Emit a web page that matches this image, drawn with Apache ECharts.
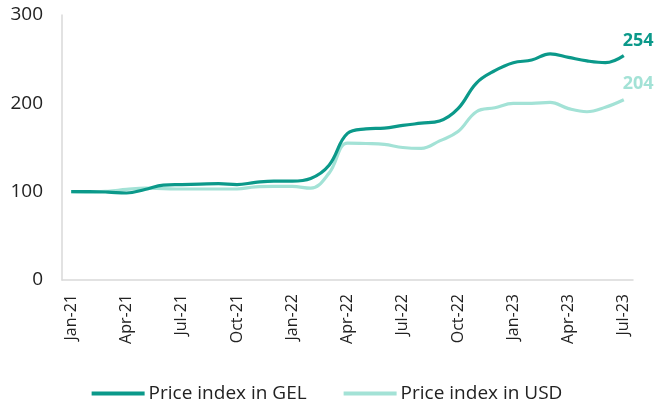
<!DOCTYPE html>
<html lang="en">
<head>
<meta charset="UTF-8">
<title>Price index</title>
<script src="https://cdn.jsdelivr.net/npm/echarts@6/dist/echarts.min.js"></script>
</head>
<body style="margin:0">
<div id="main" style="width:654px;height:406px;"></div>
<script>
// monthly data, Jan-21 .. Jul-23
const months = ['Jan-21','Feb-21','Mar-21','Apr-21','May-21','Jun-21','Jul-21','Aug-21','Sep-21','Oct-21','Nov-21','Dec-21',
  'Jan-22','Feb-22','Mar-22','Apr-22','May-22','Jun-22','Jul-22','Aug-22','Sep-22','Oct-22','Nov-22','Dec-22',
  'Jan-23','Feb-23','Mar-23','Apr-23','May-23','Jun-23','Jul-23'];
const gel = [100, 100, 99.5, 98.5, 102.5, 107.5, 108, 108.5, 109, 108, 110.5, 112,
  112, 115, 130, 166, 171, 172, 175, 177.5, 180, 194, 223, 237,
  246, 249, 256, 252, 248, 246, 254];
const usd = [100, 99.5, 100.5, 102.5, 104, 103.5, 103, 103, 103, 103, 105.5, 106,
  106, 104, 121, 155, 154.5, 153.5, 150, 149, 157.5, 168, 190.5, 195,
  200, 200, 201, 194, 190.5, 195.5, 204];
const names = ['Price index in GEL', 'Price index in USD'];
const colors = ['#0b998a', '#a3e2d6'];

const font = '"Open Sans", sans-serif';

let chart = echarts.init(document.getElementById('main'));
chart.setOption({
  animation: false,
  color: colors,
  grid: { left: 62, right: 21, top: 15, bottom: 126 },
  xAxis: {
    type: 'category',
    data: months,
    boundaryGap: true,
    axisLine: { lineStyle: { color: '#d9d9d9', width: 1.5 } },
    axisTick: { show: false },
    axisLabel: { interval: 2, rotate: 90, color: '#222', fontSize: 16, fontFamily: font, margin: 14 }
  },
  yAxis: {
    type: 'value',
    min: 0, max: 300, interval: 100,
    axisLine: { show: true, lineStyle: { color: '#d9d9d9', width: 1.5 } },
    splitLine: { show: false },
    axisLabel: { color: '#222', fontSize: 19, fontFamily: font, margin: 19 }
  },
  legend: {
    top: 379, left: 'center',
    itemWidth: 53, itemHeight: 4, itemGap: 37,
    icon: 'rect',
    textStyle: { color: '#222', fontSize: 19, fontFamily: font, padding: [0, 0, 0, -1] },
    data: names
  },
  series: [
    { name: names[0], type: 'line', smooth: 0.4, symbol: 'none', data: gel,
      lineStyle: { width: 3.2, color: colors[0] }, z: 3,
      endLabel: { show: true, offset: [-9, -15], color: colors[0], fontWeight: 'bold',
        fontSize: 18, fontFamily: font, formatter: p => Math.round(p.value) } },
    { name: names[1], type: 'line', smooth: 0.4, symbol: 'none', data: usd,
      lineStyle: { width: 3.2, color: colors[1] }, z: 2,
      endLabel: { show: true, offset: [-9, -16], color: colors[1], fontWeight: 'bold',
        fontSize: 18, fontFamily: font, formatter: p => Math.round(p.value) } }
  ]
});
</script>
</body>
</html>
